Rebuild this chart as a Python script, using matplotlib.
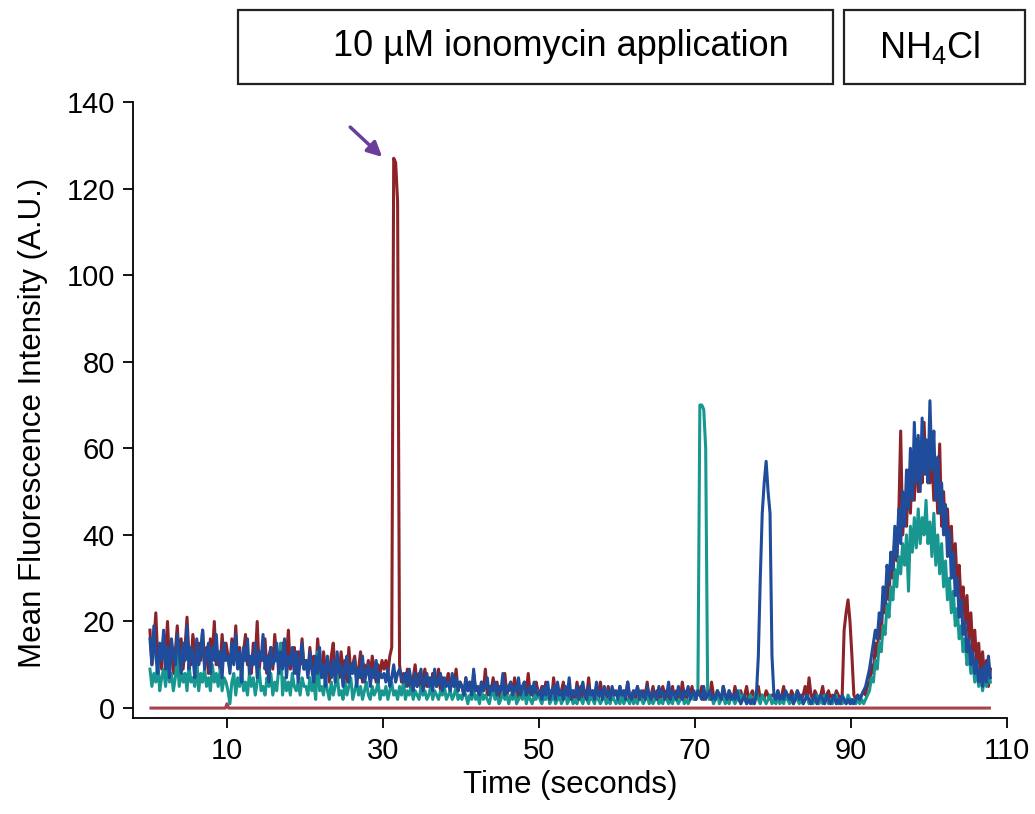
import numpy as np
import matplotlib
matplotlib.use("Agg")
import matplotlib.pyplot as plt
from matplotlib.patches import Rectangle

plt.rcParams['font.family'] = ['Liberation Sans', 'DejaVu Sans']
plt.rcParams['mathtext.default'] = 'regular'

# sample times: first sample and spacing (seconds)
t_start = 0.125
t_step = 0.25

# cell traces, one line = 10 s (40 samples)
red = [
    18, 10, 15, 22, 11, 14, 9, 17, 12, 20, 10, 15, 8, 13, 19, 11, 16, 9, 14, 21, 12, 10, 17, 13, 9, 15, 11, 18, 10, 14, 8, 16, 12, 20, 10, 13, 9, 17, 11, 15,
    12, 9, 16, 11, 19, 10, 14, 8, 13, 17, 10, 12, 8, 15, 11, 20, 9, 13, 11, 16, 8, 12, 14, 9, 17, 11, 13, 8, 15, 10, 12, 18, 9, 11, 14, 8, 13, 10, 16, 9,
    11, 8, 14, 9, 12, 7, 16, 10, 8, 13, 9, 11, 6, 12, 15, 8, 10, 7, 13, 9, 11, 6, 14, 8, 10, 12, 7, 9, 13, 6, 10, 8, 11, 7, 12, 9, 6, 10, 8, 11,
    9, 11, 8, 12, 14, 127, 126, 117, 10, 6, 8, 5, 9, 6, 4, 7, 10, 5, 8, 4, 6, 9, 5, 7, 4, 8, 6, 5, 9, 4, 7, 5, 6, 8, 4, 7, 5, 9, 4, 6,
    5, 3, 7, 4, 6, 3, 8, 4, 5, 2, 6, 4, 9, 3, 5, 4, 7, 3, 6, 2, 5, 4, 8, 3, 5, 6, 3, 7, 4, 2, 5, 3, 6, 4, 8, 3, 5, 2, 6, 4,
    3, 5, 2, 6, 3, 4, 2, 7, 3, 5, 2, 4, 6, 3, 2, 5, 3, 4, 2, 6, 3, 5, 2, 4, 3, 7, 2, 4, 3, 5, 2, 6, 3, 4, 2, 5, 3, 2, 4, 3,
    3, 5, 2, 4, 3, 6, 2, 3, 4, 2, 5, 3, 2, 4, 3, 6, 2, 3, 5, 2, 4, 3, 2, 5, 3, 4, 2, 3, 5, 2, 4, 3, 2, 6, 3, 2, 4, 3, 5, 2,
    2, 4, 3, 5, 2, 3, 4, 2, 6, 3, 2, 4, 3, 2, 5, 3, 2, 4, 3, 2, 5, 3, 2, 4, 2, 3, 5, 2, 3, 4, 2, 3, 5, 2, 3, 2, 4, 3, 2, 3,
    3, 2, 4, 2, 3, 5, 2, 3, 2, 4, 3, 2, 4, 3, 2, 3, 5, 2, 7, 3, 2, 4, 3, 2, 3, 5, 2, 3, 4, 2, 3, 2, 4, 3, 2, 3, 18, 22, 25, 20,
    12, 3, 2, 3, 2, 3, 4, 3, 6, 5, 10, 8, 15, 12, 20, 16, 26, 22, 30, 25, 36, 30, 40, 34, 44, 64, 40, 48, 42, 55, 45, 58, 48, 62, 50, 57, 52, 66, 54, 60,
    52, 58, 48, 56, 45, 61, 42, 50, 40, 46, 36, 42, 31, 38, 28, 33, 24, 28, 20, 26, 16, 22, 13, 18, 10, 15, 8, 13, 7, 11, 5, 9,
]
teal = [
    9, 5, 8, 6, 11, 4, 7, 9, 5, 10, 6, 8, 4, 7, 12, 5, 9, 6, 8, 4, 10, 6, 7, 5, 11, 4, 8, 6, 9, 5, 7, 4, 10, 6, 8, 5, 9, 4, 7, 6,
    4, 1, 6, 8, 3, 7, 5, 9, 4, 6, 3, 8, 5, 7, 3, 6, 9, 4, 5, 3, 7, 5, 8, 3, 6, 4, 9, 15, 3, 7, 4, 6, 3, 8, 5, 4, 6, 3, 7, 5,
    5, 3, 7, 4, 6, 2, 13, 4, 5, 3, 7, 4, 2, 6, 3, 5, 8, 3, 4, 2, 6, 3, 5, 7, 2, 4, 6, 3, 5, 2, 4, 6, 3, 2, 5, 3, 4, 6, 2, 4,
    3, 5, 2, 4, 6, 3, 4, 2, 5, 3, 6, 2, 4, 3, 5, 2, 4, 3, 2, 5, 3, 4, 2, 3, 5, 2, 4, 3, 2, 4, 3, 5, 2, 3, 4, 2, 3, 5, 2, 3,
    2, 4, 3, 1, 3, 2, 4, 2, 3, 1, 4, 2, 3, 2, 1, 3, 4, 2, 3, 1, 2, 4, 2, 3, 1, 3, 2, 4, 1, 2, 3, 2, 4, 1, 3, 2, 1, 3, 2, 4,
    2, 1, 3, 2, 4, 1, 2, 3, 1, 2, 3, 1, 2, 4, 1, 2, 3, 1, 2, 1, 3, 2, 1, 3, 2, 1, 4, 2, 1, 3, 2, 1, 2, 3, 1, 2, 1, 3, 2, 1,
    2, 1, 3, 1, 2, 2, 1, 3, 1, 2, 1, 3, 2, 1, 2, 3, 1, 2, 1, 2, 3, 1, 2, 1, 3, 2, 1, 2, 1, 3, 2, 1, 2, 3, 1, 2, 1, 2, 3, 2,
    2, 4, 70, 70, 69, 60, 4, 2, 3, 1, 2, 4, 1, 2, 3, 1, 2, 1, 3, 2, 1, 2, 4, 1, 3, 2, 1, 2, 3, 1, 2, 4, 2, 1, 3, 2, 1, 2, 3, 1,
    2, 1, 3, 1, 2, 1, 3, 2, 1, 2, 1, 3, 2, 1, 2, 1, 2, 3, 1, 2, 1, 2, 3, 1, 2, 1, 3, 2, 1, 2, 1, 2, 3, 1, 2, 1, 2, 1, 3, 2,
    1, 2, 1, 2, 1, 2, 1, 2, 3, 4, 7, 6, 11, 9, 15, 13, 19, 17, 24, 21, 28, 25, 32, 28, 35, 31, 38, 33, 40, 27, 42, 36, 44, 37, 46, 38, 44, 40, 48, 38,
    43, 35, 45, 33, 40, 31, 38, 28, 34, 25, 30, 22, 27, 19, 23, 16, 19, 13, 16, 10, 13, 8, 11, 6, 9, 5, 8, 4, 7, 5, 8, 6,
]
blue = [
    16, 10, 19, 12, 8, 15, 11, 18, 9, 14, 7, 16, 12, 10, 17, 13, 8, 15, 11, 19, 9, 14, 12, 7, 16, 10, 13, 18, 9, 12, 15, 8, 14, 11, 17, 10, 13, 7, 15, 11,
    12, 8, 15, 10, 17, 9, 13, 6, 14, 11, 16, 8, 12, 10, 15, 7, 13, 11, 17, 9, 12, 6, 14, 10, 11, 15, 8, 13, 9, 16, 7, 12, 10, 14, 8, 13, 6, 11, 15, 9,
    11, 7, 13, 9, 6, 12, 8, 14, 7, 10, 5, 12, 9, 7, 11, 6, 13, 8, 10, 5, 9, 12, 6, 10, 8, 11, 5, 9, 7, 12, 6, 8, 10, 5, 9, 7, 11, 6, 8, 7,
    8, 6, 9, 5, 7, 10, 6, 8, 9, 7, 6, 8, 5, 9, 6, 4, 8, 5, 7, 9, 4, 6, 8, 5, 7, 4, 9, 5, 6, 8, 4, 7, 5, 6, 4, 8, 5, 7, 4, 6,
    5, 3, 7, 4, 6, 3, 9, 4, 5, 3, 6, 4, 5, 7, 3, 5, 4, 6, 3, 5, 4, 8, 3, 5, 4, 6, 3, 5, 4, 7, 3, 5, 6, 3, 4, 5, 3, 6, 4, 3,
    4, 2, 5, 3, 6, 2, 4, 5, 2, 6, 3, 4, 2, 5, 3, 7, 2, 4, 3, 5, 2, 4, 6, 3, 2, 5, 3, 4, 2, 6, 3, 4, 2, 5, 3, 4, 2, 5, 3, 4,
    2, 5, 3, 4, 2, 6, 3, 2, 4, 3, 5, 2, 4, 3, 2, 5, 3, 2, 4, 3, 2, 5, 3, 4, 2, 3, 6, 2, 4, 3, 2, 5, 3, 2, 4, 3, 5, 2, 3, 4,
    2, 4, 3, 2, 5, 2, 3, 4, 2, 3, 2, 4, 3, 2, 5, 3, 2, 4, 2, 3, 2, 4, 2, 1, 2, 3, 1, 2, 1, 2, 1, 3, 12, 30, 45, 52, 57, 50, 45, 12,
    3, 2, 4, 2, 3, 2, 4, 3, 2, 3, 1, 2, 4, 2, 3, 1, 2, 3, 2, 1, 2, 3, 1, 2, 3, 2, 1, 3, 2, 1, 2, 3, 1, 2, 1, 3, 2, 1, 2, 1,
    2, 1, 2, 3, 2, 3, 4, 5, 7, 9, 12, 15, 18, 16, 22, 20, 28, 24, 33, 29, 36, 32, 42, 35, 46, 38, 50, 42, 55, 46, 60, 48, 66, 52, 63, 50, 67, 54, 62, 52,
    71, 55, 64, 48, 58, 45, 52, 40, 47, 35, 41, 30, 36, 26, 30, 21, 25, 17, 20, 13, 16, 10, 13, 8, 11, 6, 9, 5, 10, 6, 12, 7,
]
# control trace along zero
base_t = [0.25, 9.8, 10.0, 10.2, 107.75]
base_v = [0, 0, 1.0, 0, 0]

fig = plt.figure(figsize=(10.35, 8.14), dpi=100)
ax = fig.add_axes([0.1285, 0.1179, 0.8444, 0.7568])

ax.plot(base_t, base_v, color='#A8424E', lw=2.2)
for vals, col in [(red, '#8B2328'), (teal, '#17978F'), (blue, '#1F4C9B')]:
    t = t_start + t_step * np.arange(len(vals))
    ax.plot(t, vals, color=col, lw=2.2)

ax.annotate('', xy=(29.9, 127.3), xytext=(25.8, 134.2),
            arrowprops=dict(arrowstyle='-|>', color='#6A3D9A', lw=2.5,
                            mutation_scale=22, shrinkA=0, shrinkB=0))

ax.set_xlim(-2.05, 110)
ax.set_ylim(-2.3, 140)
ax.set_xticks([10, 30, 50, 70, 90, 110])
ax.set_yticks([0, 20, 40, 60, 80, 100, 120, 140])
for s in ['top', 'right']:
    ax.spines[s].set_visible(False)
for s in ['left', 'bottom']:
    ax.spines[s].set_linewidth(1.3)
ax.tick_params(axis='both', labelsize=21, length=7, width=1.3)
ax.tick_params(axis='x', pad=7)
ax.tick_params(axis='y', pad=6)
ax.set_xlabel('Time (seconds)', fontsize=22.5, labelpad=3)
ax.set_ylabel('Mean Fluorescence Intensity (A.U.)', fontsize=22.5)
ax.yaxis.set_label_coords(-0.097, 0.48)

W, H = 1035, 814
for x0, x1, label, cx in [(238, 833, '10 µM ionomycin application', 561),
                          (844, 1025, 'NH$_4$Cl', 930)]:
    fig.add_artist(Rectangle((x0 / W, 1 - 84 / H), (x1 - x0) / W, 74 / H,
                             transform=fig.transFigure, fill=False,
                             edgecolor='#222222', lw=1.6))
    fig.text(cx / W, 1 - 47 / H, label, fontsize=26, ha='center', va='center')

fig.savefig('out.png', dpi=100)
